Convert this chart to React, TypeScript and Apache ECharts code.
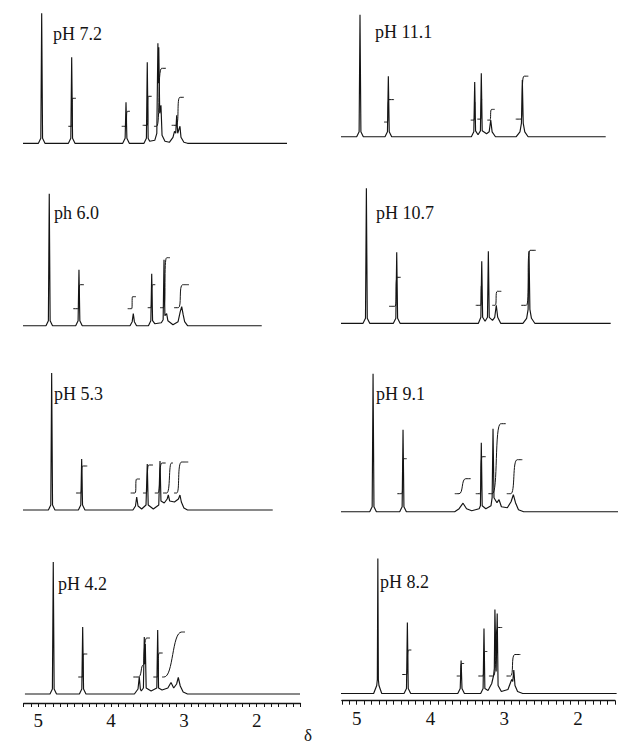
import React, { useEffect, useRef } from 'react';
import * as echarts from 'echarts';

// ---- Data (δ in ppm, intensity in arbitrary units above baseline) ----
const panelLabels = ['pH 7.2', 'pH 11.1', 'ph 6.0', 'pH 10.7', 'pH 5.3', 'pH 9.1', 'pH 4.2', 'pH 8.2'];
const tickLabels = [5, 4, 3, 2];
const axisTitle = 'δ';

const trace72: number[][] = [
  [5.389, 0], [4.998, 0], [4.965, 5], [4.953, 130], [4.941, 5], [4.908, 0],
  [4.586, 0], [4.553, 5], [4.541, 86], [4.529, 5], [4.496, 0],
  [3.84, 0], [3.807, 5], [3.795, 41], [3.783, 5], [3.75, 0],
  [3.548, 0], [3.515, 5], [3.503, 81], [3.491, 5], [3.47, 2], [3.40, 3],
  [3.372, 10], [3.357, 100], [3.351, 60], [3.345, 96], [3.332, 30], [3.315, 38], [3.30, 8], [3.26, 2],
  [3.20, 1], [3.15, 6], [3.129, 12], [3.112, 10], [3.099, 28], [3.085, 10], [3.054, 17], [3.04, 6], [3.0, 1], [2.95, 0],
  [1.584, 0],
];
const trace111: number[][] = [
  [5.396, 0], [5.001, 0], [4.968, 5], [4.956, 125], [4.944, 5], [4.911, 0],
  [4.619, 0], [4.586, 5], [4.574, 62], [4.562, 5], [4.529, 0],
  [3.455, 0], [3.422, 5], [3.41, 56], [3.398, 6], [3.365, 2],
  [3.333, 6], [3.321, 65], [3.309, 6], [3.25, 3],
  [3.215, 5], [3.194, 17], [3.175, 5], [3.13, 0],
  [2.85, 0], [2.80, 5], [2.78, 14], [2.768, 58], [2.756, 14], [2.735, 5], [2.69, 0],
  [1.644, 0],
];
const trace60: number[][] = [
  [5.306, 0], [4.894, 0], [4.861, 5], [4.849, 132], [4.837, 5], [4.804, 0],
  [4.486, 0], [4.453, 5], [4.441, 56], [4.429, 5], [4.396, 0],
  [3.74, 0], [3.71, 4], [3.695, 12], [3.68, 4], [3.65, 0],
  [3.487, 0], [3.454, 5], [3.442, 52], [3.43, 5], [3.40, 2],
  [3.31, 3], [3.285, 6], [3.273, 66], [3.261, 10], [3.237, 12], [3.22, 5], [3.15, 1],
  [3.08, 4], [3.05, 14], [3.03, 19], [3.01, 11], [2.99, 4], [2.95, 0],
  [1.931, 0],
];
const trace107: number[][] = [
  [5.337, 0], [4.915, 0], [4.882, 5], [4.87, 135], [4.858, 5], [4.825, 0],
  [4.506, 0], [4.473, 5], [4.461, 71], [4.449, 5], [4.416, 0],
  [3.36, 0], [3.327, 6], [3.315, 62], [3.303, 6], [3.27, 2],
  [3.238, 6], [3.226, 72], [3.214, 6], [3.17, 3],
  [3.14, 6], [3.119, 18], [3.10, 6], [3.06, 0],
  [2.76, 0], [2.71, 5], [2.69, 14], [2.678, 72], [2.666, 14], [2.645, 5], [2.60, 0],
  [1.577, 0],
];
const trace53: number[][] = [
  [5.261, 0], [4.861, 0], [4.828, 5], [4.816, 137], [4.804, 5], [4.771, 0],
  [4.449, 0], [4.416, 5], [4.404, 51], [4.392, 5], [4.359, 0],
  [3.70, 0], [3.665, 4], [3.648, 13], [3.63, 4], [3.58, 1],
  [3.52, 5], [3.503, 46], [3.49, 5], [3.42, 1],
  [3.345, 5], [3.328, 49], [3.315, 9], [3.27, 7],
  [3.23, 11], [3.214, 15], [3.195, 9], [3.13, 8],
  [3.075, 11], [3.054, 15], [3.035, 8], [3.0, 2], [2.95, 0],
  [1.78, 0],
];
const trace91: number[][] = [
  [5.248, 0], [4.825, 0], [4.792, 5], [4.78, 138], [4.768, 5], [4.735, 0],
  [4.421, 0], [4.388, 5], [4.376, 82], [4.364, 5], [4.331, 0],
  [3.68, 0], [3.62, 3], [3.567, 8.5], [3.52, 3], [3.45, 1],
  [3.35, 3], [3.333, 6], [3.321, 69], [3.309, 6], [3.26, 3],
  [3.19, 6], [3.175, 14], [3.163, 83], [3.15, 14], [3.11, 9], [3.082, 12], [3.05, 5],
  [2.97, 4], [2.92, 10], [2.889, 17], [2.86, 9], [2.82, 2], [2.75, 0],
  [1.478, 0],
];
const trace42: number[][] = [
  [5.183, 0], [4.839, 0], [4.806, 5], [4.794, 132], [4.782, 5], [4.749, 0],
  [4.435, 0], [4.402, 5], [4.39, 67], [4.378, 5], [4.345, 0],
  [3.68, 0], [3.63, 5], [3.613, 17], [3.598, 5], [3.585, 3],
  [3.556, 6], [3.544, 57], [3.537, 30], [3.53, 50], [3.518, 6], [3.45, 3],
  [3.372, 6], [3.36, 64], [3.348, 6], [3.30, 4],
  [3.22, 6], [3.177, 11.5], [3.14, 6], [3.10, 10], [3.077, 16.5], [3.05, 8], [3.01, 2], [2.95, 0],
  [1.405, 0],
];
const trace82: number[][] = [
  [5.216, 0], [4.77, 0], [4.728, 8], [4.72, 14], [4.713, 135], [4.706, 14], [4.698, 8], [4.66, 0],
  [4.358, 0], [4.325, 5], [4.313, 71], [4.301, 5], [4.268, 0],
  [3.63, 0], [3.597, 5], [3.585, 33], [3.573, 5], [3.54, 0],
  [3.32, 0], [3.287, 5], [3.275, 65], [3.263, 5], [3.22, 3],
  [3.17, 10], [3.145, 18], [3.135, 25], [3.127, 84], [3.11, 22], [3.096, 80], [3.084, 8], [3.04, 2],
  [2.95, 4], [2.90, 14], [2.885, 12], [2.871, 23.5], [2.855, 8], [2.82, 2], [2.75, 0],
  [1.478, 0],
];

// integral traces: [tick start δ, rise start δ, rise end δ, tick end δ, lower level, upper level]
const int72: number[][] = [
  [4.588, 4.541, 4.53, 4.482, 17, 45],
  [3.854, 3.80, 3.775, 3.74, 17, 32],
  [3.566, 3.503, 3.489, 3.442, 18, 47],
  [3.411, 3.374, 3.305, 3.246, 17, 75],
  [3.168, 3.109, 3.054, 3.0, 18, 46],
];
const int111: number[][] = [
  [4.632, 4.588, 4.565, 4.497, 15, 38],
  [3.464, 3.419, 3.405, 3.40, 17, 35],
  [3.375, 3.33, 3.315, 3.31, 18, 38],
  [3.24, 3.208, 3.181, 3.14, 17, 28],
  [2.857, 2.79, 2.745, 2.687, 18, 62],
];
const int60: number[][] = [
  [4.519, 4.451, 4.427, 4.372, 17, 41],
  [3.772, 3.717, 3.705, 3.658, 17, 29],
  [3.497, 3.456, 3.429, 3.393, 18, 41],
  [3.328, 3.283, 3.236, 3.191, 18, 68],
  [3.136, 3.077, 3.016, 2.93, 18, 41],
];
const int107: number[][] = [
  [4.565, 4.484, 4.453, 4.407, 17, 46],
  [3.396, 3.329, 3.318, 3.31, 18, 38],
  [3.173, 3.136, 3.105, 3.051, 18, 32],
  [2.782, 2.714, 2.664, 2.588, 18, 73],
];
const int53: number[][] = [
  [4.482, 4.418, 4.39, 4.327, 17, 44],
  [3.731, 3.672, 3.648, 3.603, 17, 31],
  [3.562, 3.52, 3.48, 3.424, 17, 45],
  [3.40, 3.36, 3.30, 3.25, 17, 47],
  [3.287, 3.236, 3.17, 3.15, 17, 47],
  [3.136, 3.10, 3.03, 2.94, 17, 48],
];
const int91: number[][] = [
  [4.453, 4.394, 4.363, 4.326, 18, 53],
  [3.679, 3.621, 3.531, 3.464, 18, 33],
  [3.396, 3.342, 3.307, 3.261, 18, 55],
  [3.226, 3.173, 3.059, 2.992, 18, 88],
  [2.978, 2.925, 2.836, 2.768, 18, 52],
];
const int42: number[][] = [
  [4.451, 4.39, 4.382, 4.327, 17, 40],
  [3.695, 3.626, 3.558, 3.55, 17, 29],
  [3.55, 3.545, 3.511, 3.466, 29, 56],
  [3.42, 3.365, 3.338, 3.291, 17, 41],
  [3.30, 3.273, 3.03, 2.985, 17, 62],
];
const int82: number[][] = [
  [4.385, 4.326, 4.295, 4.259, 19, 43.5],
  [3.644, 3.598, 3.577, 3.544, 17.5, 30],
  [3.352, 3.294, 3.261, 3.23, 17.5, 42],
  [3.208, 3.15, 3.082, 3.028, 17.5, 66],
  [2.97, 2.916, 2.857, 2.782, 17.5, 39],
];

const traces = [trace72, trace111, trace60, trace107, trace53, trace91, trace42, trace82];
const integrals = [int72, int111, int60, int107, int53, int91, int42, int82];

// ---- Layout (pixels) ----
const columns = [
  { left: 23.7, width: 276.7, min: 1.4, max: 5.2 },
  { left: 341.9, width: 274.5, min: 1.5, max: 5.2 },
];
const layout = [
  { col: 0, base: 143.3, axisY: 0, lx: 53, ly: 35 },
  { col: 1, base: 136.7, axisY: 0, lx: 375, ly: 33 },
  { col: 0, base: 325.7, axisY: 0, lx: 54, ly: 214 },
  { col: 1, base: 323.3, axisY: 0, lx: 376, ly: 214 },
  { col: 0, base: 510, axisY: 0, lx: 54, ly: 395 },
  { col: 1, base: 511.7, axisY: 0, lx: 376, ly: 395 },
  { col: 0, base: 694, axisY: 703, lx: 58, ly: 585 },
  { col: 1, base: 693.5, axisY: 700.7, lx: 380, ly: 583 },
];
const PANEL_H = 140;
const INK = '#141414';
const SERIF = '"Liberation Serif", "DejaVu Serif", serif';

export default function App() {
  const ref = useRef<HTMLDivElement>(null);
  useEffect(() => {
    if (!ref.current) return;
    const chart = echarts.init(ref.current, undefined, { renderer: 'svg' });
    const grids: any[] = [];
    const xAxes: any[] = [];
    const yAxes: any[] = [];
    const series: any[] = [];
    const graphics: any[] = [];

    layout.forEach((p, i) => {
      const c = columns[p.col];
      const extra = p.axisY ? p.axisY - p.base : 0;
      grids.push({ left: c.left, width: c.width, top: p.base - PANEL_H, height: PANEL_H + extra });
      const isBottom = !!p.axisY;
      xAxes.push({
        gridIndex: i,
        type: 'value',
        inverse: true,
        min: c.min,
        max: c.max,
        interval: 0.1,
        show: isBottom,
        splitLine: { show: false },
        axisLine: { show: isBottom, onZero: false, lineStyle: { color: INK, width: 1.4 } },
        axisTick: { show: isBottom, length: 4, lineStyle: { color: INK, width: 1 } },
        axisLabel: {
          show: isBottom,
          margin: 8,
          color: INK,
          fontFamily: SERIF,
          fontSize: 19,
          formatter: (v: number) => {
            const r = Math.round(v);
            return Math.abs(v - r) < 1e-6 && tickLabels.includes(r) ? String(r) : '';
          },
        },
      });
      yAxes.push({ gridIndex: i, type: 'value', min: -extra, max: PANEL_H, show: false });
      series.push({
        type: 'line',
        xAxisIndex: i,
        yAxisIndex: i,
        data: traces[i],
        symbol: 'none',
        clip: false,
        lineStyle: { color: INK, width: 1.15 },
      });
      integrals[i].forEach((g) => {
        series.push({
          type: 'line',
          xAxisIndex: i,
          yAxisIndex: i,
          data: [[g[0], g[4]], [g[1], g[4]], [g[2], g[5]], [g[3], g[5]]],
          symbol: 'none',
          smooth: 0.5,
          clip: false,
          lineStyle: { color: INK, width: 1 },
        });
      });
      graphics.push({
        type: 'text',
        left: p.lx,
        top: p.ly - 10,
        style: { text: panelLabels[i], fill: INK, font: `18px ${SERIF}` },
      });
    });
    graphics.push({
      type: 'text',
      left: 304,
      top: 727,
      style: { text: axisTitle, fill: INK, font: `17px ${SERIF}` },
    });

    chart.setOption({
      animation: false,
      backgroundColor: '#ffffff',
      grid: grids,
      xAxis: xAxes,
      yAxis: yAxes,
      series,
      graphic: graphics,
    });
    return () => chart.dispose();
  }, []);
  return (
    <div
      ref={ref}
      style={{ position: 'absolute', left: 0, top: 0, width: 618, height: 749 }}
    />
  );
}
